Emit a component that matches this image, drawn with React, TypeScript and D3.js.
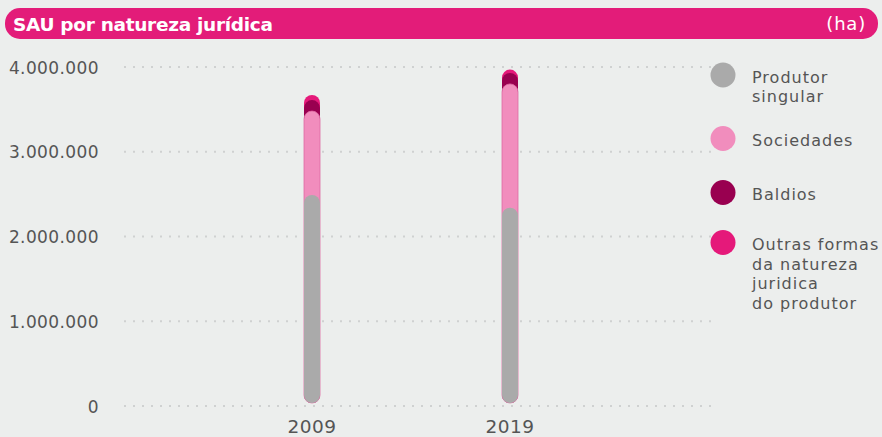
import React from "react";
import * as d3 from "d3";

const years = ["2009", "2019"];
const seriesNames = ["Produtor singular", "Sociedades", "Baldios", "Outras formas da natureza juridica do produtor"];
const produtorSingular = [2490000, 2340000];
const sociedades = [990000, 1460000];
const baldios = [130000, 130000];
const outras = [60000, 40000];
const yTicks = [0, 1000000, 2000000, 3000000, 4000000];
const colors = ["#aaaaaa", "#f18dbd", "#990050", "#e5197a"];
const legendLines = [["Produtor", "singular"], ["Sociedades"], ["Baldios"], ["Outras formas", "da natureza", "juridica", "do produtor"]];

const W = 882, H = 437;
const FONT = "'DejaVu Sans', sans-serif";

export default function App() {
  const y = d3.scaleLinear().domain([0, 4000000]).range([406, 67]);
  const x = d3.scalePoint<string>().domain(years).range([312, 510]);
  const fmt = (v: number) => d3.format(",")(v).replace(/,/g, ".");
  const series = [produtorSingular, sociedades, baldios, outras];
  const stacks = years.map((_, i) => {
    let c = 0;
    return series.map((s) => (c += s[i]));
  });
  const bw = 16;
  const legendY = [75, 138.5, 192.5, 242.5];
  return (
    <svg width={W} height={H} style={{ position: "absolute", left: 0, top: 0, background: "#eceeed" }}>
      <rect x={0} y={0} width={W} height={H} fill="#eceeed" />
      <rect x={5} y={8} width={873} height={31} rx={15} fill="#e31c79" />
      <text x={13} y={31} fill="#fff" fontFamily={FONT} fontWeight={700} fontSize={18.5} letterSpacing={-0.3}>SAU por natureza jurídica</text>
      <text x={866} y={30} fill="#fff" fontFamily={FONT} fontSize={18} letterSpacing={0.8} textAnchor="end">(ha)</text>
      {yTicks.map((t) => (
        <g key={t}>
          <line x1={124} x2={716} y1={y(t)} y2={y(t)} stroke="#cfd1d1" strokeWidth={2} strokeDasharray="2 7" />
          <text x={99} y={y(t) + 6.5} textAnchor="end" fill="#555" fontFamily={FONT} fontSize={17} letterSpacing={0.4}>{fmt(t)}</text>
        </g>
      ))}
      {years.map((yr, i) => (
        <g key={yr}>
          {[3, 2, 1, 0].map((k) => (
            <rect key={k} x={x(yr)! - bw / 2} y={y(stacks[i][k])} width={bw}
              height={y(0) - 3 - y(stacks[i][k])} rx={bw / 2} fill={colors[k]}
              stroke={k === 1 ? "#e06aa3" : "none"} strokeWidth={k === 1 ? 0.8 : 0} />
          ))}
          <text x={x(yr)} y={433} textAnchor="middle" fill="#555" fontFamily={FONT} fontSize={18.5} letterSpacing={0.5}>{yr}</text>
        </g>
      ))}
      {seriesNames.map((n, k) => (
        <g key={n}>
          <circle cx={723} cy={legendY[k]} r={12.5} fill={colors[k]} />
          {legendLines[k].map((l, j) => (
            <text key={j} x={752} y={legendY[k] + 7.5 + j * 19.7} fill="#555" fontFamily={FONT} fontSize={16} letterSpacing={1}>{l}</text>
          ))}
        </g>
      ))}
    </svg>
  );
}
